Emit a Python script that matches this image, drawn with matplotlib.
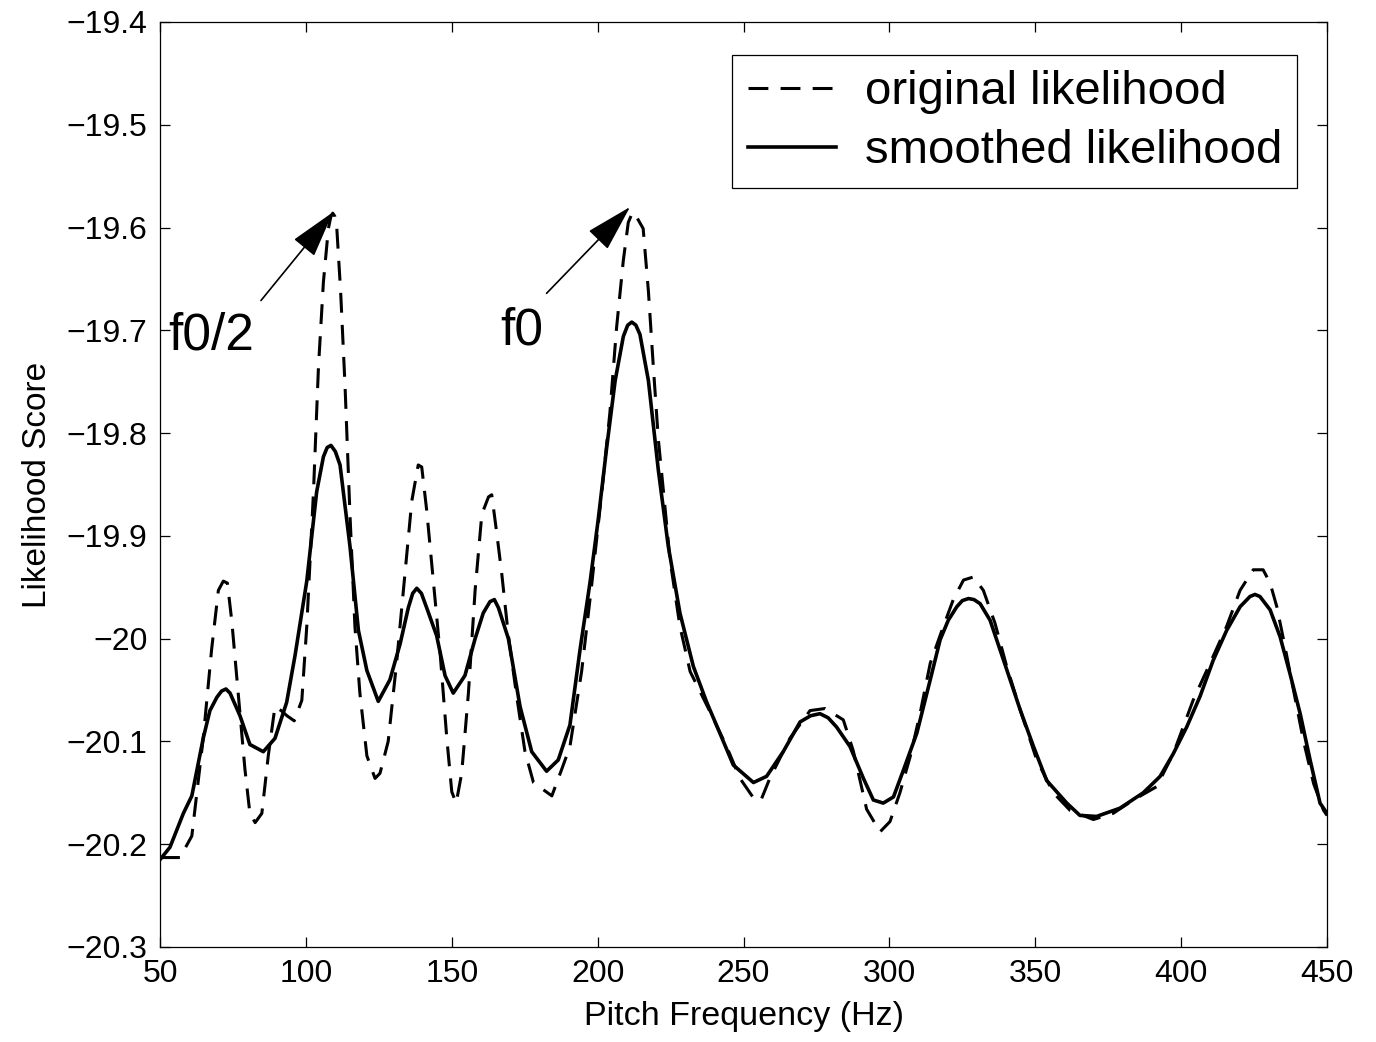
import matplotlib
matplotlib.use("Agg")
import matplotlib.pyplot as plt

plt.rcParams["font.family"] = ["Liberation Sans", "DejaVu Sans"]

# smoothed likelihood (solid)
freq_smooth = [50, 53.4, 58, 60.9, 64.8, 67.1, 69.5, 71.1, 72.6, 74, 77.4, 80.8, 85.4, 89.4,
               93.4, 96.3, 100.3, 103.7, 106, 107.3, 108.6, 110.1, 111.7, 115.1, 118, 120.9,
               124.8, 128.8, 132.3, 135.1, 136.6, 138, 139.6, 141.4, 144.8, 147.7, 150.5,
               154.5, 158, 160.8, 163.1, 164.6, 166, 169.4, 173.4, 177.4, 182.5, 186.5, 190.5,
               194, 197.4, 200.2, 203.1, 206, 208.8, 210.3, 211.7, 213.1, 214.5, 217.4, 220.8,
               224.2, 228.2, 232.8, 237.4, 241.9, 246.5, 253.4, 257.9, 263.6, 269.4, 273,
               276.2, 279, 281.9, 286.5, 291.1, 294.5, 297.9, 301.4, 304.8, 309.4, 314, 317.4,
               320.2, 323.1, 325, 327.1, 329, 331.1, 334.5, 340.2, 344.8, 349.4, 353.9, 360.8,
               365.3, 371, 379, 387, 392.8, 397.3, 401.9, 406.5, 411, 415.6, 420.2, 423.6,
               425.3, 427, 430.5, 433.9, 437.3, 440.8, 444.2, 447.6, 450]
score_smooth = [-20.215, -20.203, -20.17, -20.153, -20.097, -20.07, -20.057, -20.051, -20.049,
                -20.053, -20.075, -20.103, -20.11, -20.097, -20.062, -20.016, -19.944, -19.857,
                -19.823, -19.814, -19.812, -19.818, -19.831, -19.91, -19.992, -20.031, -20.061,
                -20.04, -20.005, -19.97, -19.956, -19.951, -19.956, -19.97, -19.997, -20.036,
                -20.053, -20.036, -20.0, -19.975, -19.964, -19.962, -19.97, -20.0, -20.066,
                -20.11, -20.129, -20.118, -20.084, -20.01, -19.945, -19.884, -19.814, -19.749,
                -19.706, -19.695, -19.692, -19.695, -19.704, -19.749, -19.836, -19.91, -19.975,
                -20.027, -20.062, -20.092, -20.123, -20.14, -20.134, -20.11, -20.081, -20.075,
                -20.073, -20.077, -20.086, -20.105, -20.136, -20.157, -20.16, -20.154, -20.128,
                -20.092, -20.04, -20.001, -19.982, -19.969, -19.963, -19.961, -19.962, -19.966,
                -19.982, -20.03, -20.069, -20.105, -20.138, -20.16, -20.172, -20.173, -20.165,
                -20.15, -20.134, -20.112, -20.086, -20.056, -20.021, -19.992, -19.969, -19.959,
                -19.957, -19.959, -19.972, -19.998, -20.034, -20.073, -20.118, -20.16, -20.17]

# original likelihood (dashed)
freq_orig = [50, 57, 58, 60.9, 64.8, 67.7, 70, 71.7, 73.1, 74.6, 76.9, 79.1, 80.8, 82.6, 84.9,
             87.1, 89.4, 91.5, 93.5, 96, 98.6, 100.3, 102.6, 104.3, 106, 107.7, 108.5, 109.2,
             109.9, 110.6, 111.9, 113.4, 115.1, 116.8, 118.5, 120.9, 123.7, 125.4, 128.2,
             131.1, 134, 136.3, 138.5, 139.7, 141.4, 143.7, 146, 148.3, 150, 151.5, 153.4,
             155.7, 158, 160.3, 162.6, 163.7, 165.4, 167.1, 169.4, 172.3, 175.1, 178, 181.4,
             184.3, 187.7, 190.5, 194.5, 197.9, 201.4, 204.2, 206.5, 208.8, 210.5, 212, 213.4,
             215.6, 217.4, 219.1, 220.8, 222.6, 224.8, 228.2, 231.7, 238.5, 244.2, 248.8,
             253.9, 256, 259, 265.9, 272.8, 277.9, 284.2, 287.6, 292.2, 296.8, 300.2, 303.6,
             307.1, 310.5, 314, 318, 321.9, 325.4, 328.8, 332.2, 336.2, 340.2, 344.8, 350.5,
             356.2, 361.9, 369.9, 376.7, 383.6, 391.6, 397.3, 404.1, 409.9, 415.6, 420.2,
             424.7, 428.1, 430.5, 432.8, 435.6, 438.5, 441.9, 445.4, 448.8, 450]
score_orig = [-20.213, -20.213, -20.207, -20.192, -20.097, -20.01, -19.953, -19.944, -19.946,
              -19.983, -20.057, -20.127, -20.17, -20.179, -20.17, -20.114, -20.066, -20.07,
              -20.075, -20.08, -20.06, -19.988, -19.857, -19.736, -19.653, -19.601, -19.59,
              -19.586, -19.589, -19.601, -19.662, -19.753, -19.879, -19.988, -20.053, -20.114,
              -20.136, -20.131, -20.1, -20.023, -19.936, -19.866, -19.831, -19.833, -19.875,
              -19.944, -20.014, -20.097, -20.149, -20.16, -20.131, -20.053, -19.953, -19.879,
              -19.862, -19.86, -19.897, -19.936, -19.997, -20.057, -20.11, -20.14, -20.147,
              -20.153, -20.127, -20.105, -20.032, -19.949, -19.858, -19.78, -19.697, -19.632,
              -19.595, -19.585, -19.59, -19.601, -19.662, -19.736, -19.806, -19.858, -19.923,
              -19.988, -20.032, -20.071, -20.105, -20.136, -20.157, -20.157, -20.136, -20.097,
              -20.07, -20.068, -20.079, -20.109, -20.166, -20.188, -20.178, -20.15, -20.115,
              -20.073, -20.024, -19.992, -19.962, -19.943, -19.94, -19.953, -19.985, -20.027,
              -20.069, -20.118, -20.15, -20.167, -20.176, -20.17, -20.157, -20.144, -20.112,
              -20.06, -20.024, -19.988, -19.953, -19.933, -19.933, -19.946, -19.969, -20.008,
              -20.05, -20.099, -20.141, -20.167, -20.172]

xticks = [50, 100, 150, 200, 250, 300, 350, 400, 450]
yticks = [-20.3, -20.2, -20.1, -20.0, -19.9, -19.8, -19.7, -19.6, -19.5, -19.4]
ytick_labels = ["\u221220.3", "\u221220.2", "\u221220.1", "\u221220", "\u221219.9",
                "\u221219.8", "\u221219.7", "\u221219.6", "\u221219.5", "\u221219.4"]

fig = plt.figure(figsize=(13.76, 10.42), dpi=100)
ax = fig.add_axes([0.1163, 0.0912, 0.8481, 0.8877])

ax.plot(freq_orig, score_orig, color="black", linewidth=2.2, linestyle=(0, (6.5, 4)),
        dash_joinstyle="round", dash_capstyle="butt", label="original likelihood")
ax.plot(freq_smooth, score_smooth, color="black", linewidth=2.6,
        solid_joinstyle="round", label="smoothed likelihood")

ax.set_xlim(50, 450)
ax.set_ylim(-20.3, -19.4)
ax.set_xticks(xticks)
ax.set_yticks(yticks)
ax.set_yticklabels(ytick_labels)
ax.tick_params(direction="in", top=True, right=True, length=7, width=0.9,
               labelsize=23, pad=9)
for s in ax.spines.values():
    s.set_linewidth(0.9)

ax.set_xlabel("Pitch Frequency (Hz)", fontsize=24.5, labelpad=8)
ax.set_ylabel("Likelihood Score", fontsize=24, labelpad=10)

# annotations
arrow_style = "-|>,head_length=1.5,head_width=0.42"
ax.annotate("", xy=(109.3, -19.585), xytext=(84.6, -19.671),
            arrowprops=dict(arrowstyle=arrow_style, mutation_scale=20, color="black",
                            lw=1.2, shrinkA=0, shrinkB=0))
ax.annotate("", xy=(211.1, -19.58), xytext=(182.5, -19.664),
            arrowprops=dict(arrowstyle=arrow_style, mutation_scale=20, color="black",
                            lw=1.2, shrinkA=0, shrinkB=0))
ax.text(52.7, -19.719, "f0/2", fontsize=37, ha="left", va="baseline")
ax.text(166.5, -19.714, "f0", fontsize=37, ha="left", va="baseline")

leg = ax.legend(loc="upper right", bbox_to_anchor=(0.9743, 0.9643), fontsize=34,
                frameon=True, fancybox=False, borderaxespad=0, handlelength=1.88,
                handletextpad=0.6, labelspacing=0.32, borderpad=0.32)
leg.get_frame().set_edgecolor("black")
leg.get_frame().set_linewidth(0.9)
leg.get_frame().set_alpha(1)

fig.savefig("out.png", dpi=100)
